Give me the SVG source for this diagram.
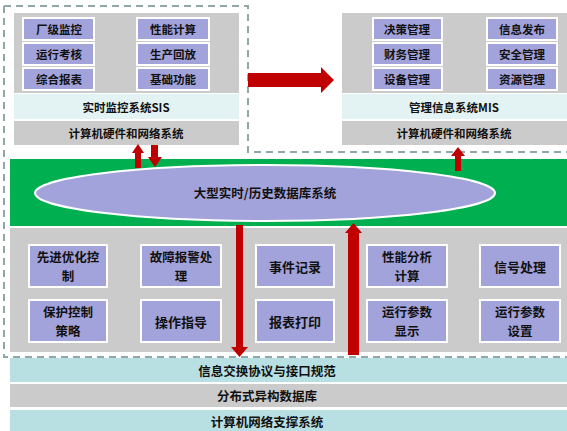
<svg xmlns="http://www.w3.org/2000/svg" width="567" height="431" viewBox="0 0 567 431">
<style>
text{font-family:"Noto Sans CJK SC","Noto Sans",sans-serif;font-weight:bold;fill:#111;text-anchor:middle;dominant-baseline:central}
.gray{fill:#cbcbcb}
.pale{fill:#e3f3f3}
.cyan{fill:#b8e0e3}
.btn{fill:#a3a3dc;stroke:#fff;stroke-width:2}
.s{font-size:11.5px}
.m{font-size:13px}
.t{font-size:12.5px}
.l{font-size:12.5px}
.dash{fill:none;stroke:#8fa9a9;stroke-width:2;stroke-dasharray:7,5}
.arr{fill:#c00000}
</style>
<rect width="567" height="431" fill="#fff"/>

<!-- SIS panel -->
<g id="sis">
<rect class="gray" x="14" y="13" width="225" height="80"/>
<rect class="pale" x="14" y="94" width="225" height="25"/>
<text class="s" x="126" y="107">实时监控系统SIS</text>
<rect class="gray" x="14" y="121" width="225" height="24"/>
<text class="s" x="126" y="133">计算机硬件和网络系统</text>
</g>
<g id="sis-btn1"><rect class="btn" x="23" y="18" width="71" height="22"/><text class="s" x="59" y="29">厂级监控</text></g>
<g id="sis-btn2"><rect class="btn" x="23" y="43" width="71" height="22"/><text class="s" x="59" y="54">运行考核</text></g>
<g id="sis-btn3"><rect class="btn" x="23" y="68" width="71" height="22"/><text class="s" x="59" y="79">综合报表</text></g>
<g id="sis-btn4"><rect class="btn" x="137" y="18" width="72" height="22"/><text class="s" x="173" y="29">性能计算</text></g>
<g id="sis-btn5"><rect class="btn" x="137" y="43" width="72" height="22"/><text class="s" x="173" y="54">生产回放</text></g>
<g id="sis-btn6"><rect class="btn" x="137" y="68" width="72" height="22"/><text class="s" x="173" y="79">基础功能</text></g>

<!-- MIS panel -->
<g id="mis">
<rect class="gray" x="342" y="13" width="225" height="80"/>
<rect class="pale" x="342" y="94" width="225" height="25"/>
<text class="s" x="454" y="107">管理信息系统MIS</text>
<rect class="gray" x="342" y="121" width="225" height="24"/>
<text class="s" x="454" y="133">计算机硬件和网络系统</text>
</g>
<g id="mis-btn1"><rect class="btn" x="373" y="18" width="69" height="22"/><text class="s" x="407" y="29">决策管理</text></g>
<g id="mis-btn2"><rect class="btn" x="373" y="43" width="69" height="22"/><text class="s" x="407" y="54">财务管理</text></g>
<g id="mis-btn3"><rect class="btn" x="373" y="68" width="69" height="22"/><text class="s" x="407" y="79">设备管理</text></g>
<g id="mis-btn4"><rect class="btn" x="487" y="18" width="70" height="22"/><text class="s" x="522" y="29">信息发布</text></g>
<g id="mis-btn5"><rect class="btn" x="487" y="43" width="70" height="22"/><text class="s" x="522" y="54">安全管理</text></g>
<g id="mis-btn6"><rect class="btn" x="487" y="68" width="70" height="22"/><text class="s" x="522" y="79">资源管理</text></g>

<!-- database -->
<g id="db">
<rect x="10" y="159" width="557" height="67" fill="#00b050"/>
<ellipse cx="265" cy="193" rx="230" ry="28" fill="#a3a3dc" stroke="#fff" stroke-width="2"/>
<text class="l" x="265" y="192">大型实时/历史数据库系统</text>
</g>

<!-- bottom panel -->
<g id="apps"><rect class="gray" x="10" y="228" width="557" height="124"/></g>
<g id="app1"><rect class="btn" x="29" y="245" width="78" height="42"/><text class="t" x="68" y="256.5">先进优化控</text><text class="t" x="68" y="275">制</text></g>
<g id="app2"><rect class="btn" x="141" y="245" width="80" height="42"/><text class="t" x="181" y="256.5">故障报警处</text><text class="t" x="181" y="275">理</text></g>
<g id="app3"><rect class="btn" x="256" y="245" width="78" height="42"/><text class="m" x="295" y="266">事件记录</text></g>
<g id="app4"><rect class="btn" x="367" y="245" width="80" height="42"/><text class="t" x="407" y="256.5">性能分析</text><text class="t" x="407" y="275">计算</text></g>
<g id="app5"><rect class="btn" x="480" y="245" width="80" height="42"/><text class="m" x="520" y="266">信号处理</text></g>
<g id="app6"><rect class="btn" x="29" y="300" width="78" height="42"/><text class="t" x="68" y="311.5">保护控制</text><text class="t" x="68" y="330">策略</text></g>
<g id="app7"><rect class="btn" x="141" y="300" width="80" height="42"/><text class="m" x="181" y="321">操作指导</text></g>
<g id="app8"><rect class="btn" x="256" y="300" width="78" height="42"/><text class="m" x="295" y="321">报表打印</text></g>
<g id="app9"><rect class="btn" x="367" y="300" width="80" height="42"/><text class="t" x="407" y="311.5">运行参数</text><text class="t" x="407" y="330">显示</text></g>
<g id="app10"><rect class="btn" x="480" y="300" width="80" height="42"/><text class="t" x="520" y="311.5">运行参数</text><text class="t" x="520" y="330">设置</text></g>

<!-- base layers -->
<g id="layer1"><rect class="cyan" x="10" y="358" width="557" height="24"/><text class="l" x="267" y="370">信息交换协议与接口规范</text></g>
<g id="layer2"><rect class="gray" x="10" y="384" width="557" height="23"/><text class="l" x="267" y="395">分布式异构数据库</text></g>
<g id="layer3"><rect class="cyan" x="10" y="410" width="557" height="21"/><text class="l" x="267" y="421">计算机网络支撑系统</text></g>

<!-- dashed boundary -->
<g id="boundary">
<path class="dash" d="M4,6 H248 V152 H567"/>
<path class="dash" d="M4,6 V357 H567"/>
</g>

<!-- connectors -->
<g id="connectors">
<polygon class="arr" points="248,73 321,73 321,67 334,80 321,93 321,87 248,87"/>
<polygon class="arr" points="135,168 135,153 132,153 138,144 144,153 141,153 141,168"/>
<polygon class="arr" points="151,145 158,145 158,157 162,157 155,167 148,157 151,157"/>
<polygon class="arr" points="455,171 455,156 451,156 458,147 465,156 461,156 461,171"/>
<polygon class="arr" points="236,225 243,225 243,347 248,347 239.5,357 231,347 236,347"/>
<polygon class="arr" points="348,355 348,233 345,233 353.5,223 362,233 359,233 359,355"/>
</g>
</svg>
